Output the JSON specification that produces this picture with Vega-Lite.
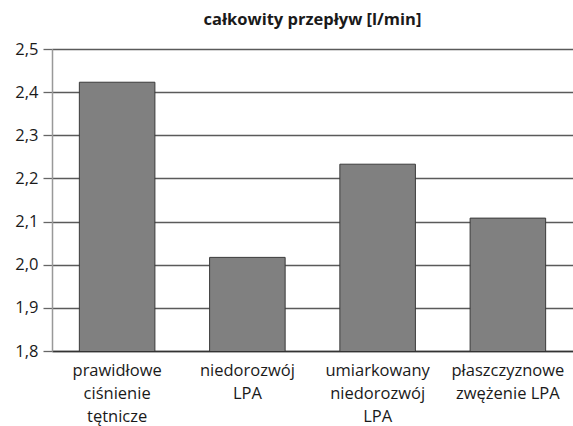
{
  "$schema": "https://vega.github.io/schema/vega-lite/v6.json",
  "autosize": "none",
  "padding": {"left": 52, "top": 49, "right": 0, "bottom": 75},
  "width": 521,
  "height": 302,
  "title": {
    "text": "całkowity przepływ [l/min]",
    "font": "Open Sans",
    "fontSize": 16.5,
    "fontWeight": "bold",
    "color": "#1a1a1a",
    "anchor": "middle",
    "offset": 13
  },
  "data": {
    "values": [
      {"grupa": "prawidłowe\nciśnienie\ntętnicze", "przeplyw": 2.423},
      {"grupa": "niedorozwój\nLPA", "przeplyw": 2.017},
      {"grupa": "umiarkowany\nniedorozwój\nLPA", "przeplyw": 2.233},
      {"grupa": "płaszczyznowe\nzwężenie LPA", "przeplyw": 2.108}
    ]
  },
  "mark": {"type": "bar", "fill": "#808080", "stroke": "#3a3a3a", "strokeWidth": 1, "clip": true},
  "encoding": {
    "x": {
      "field": "grupa",
      "type": "nominal",
      "sort": null,
      "scale": {"paddingInner": 0.42, "paddingOuter": 0.21},
      "axis": {
        "title": null,
        "labelAngle": 0,
        "labelExpr": "split(datum.value, '\\n')",
        "labelFont": "Open Sans",
        "labelFontSize": 16.5,
        "labelColor": "#1a1a1a",
        "labelLineHeight": 23,
        "labelPadding": 11,
        "ticks": false,
        "domainColor": "#333333",
        "domainWidth": 1.5,
        "labelBaseline": "top"
      }
    },
    "y": {
      "field": "przeplyw",
      "type": "quantitative",
      "scale": {"domain": [1.8, 2.5], "zero": false, "nice": false},
      "axis": {
        "title": null,
        "values": [1.8, 1.9, 2.0, 2.1, 2.2, 2.3, 2.4, 2.5],
        "labelExpr": "replace(format(datum.value, '.1f'), '.', ',')",
        "labelFont": "Open Sans",
        "labelFontSize": 16.5,
        "labelColor": "#1a1a1a",
        "labelPadding": 5,
        "tickSize": 9,
        "tickColor": "#666666",
        "tickWidth": 1.3,
        "domainColor": "#999999",
        "domainWidth": 1.5,
        "grid": true,
        "gridColor": "#5a5a5a",
        "gridWidth": 1.3
      }
    }
  },
  "config": {
    "view": {"stroke": null}
  }
}
